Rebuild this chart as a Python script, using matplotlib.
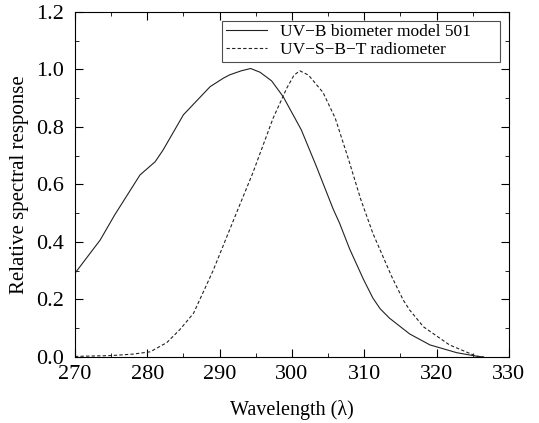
import matplotlib
matplotlib.use("Agg")
import matplotlib.pyplot as plt
from matplotlib.ticker import MultipleLocator, FormatStrFormatter

plt.rcParams['font.family'] = ['Liberation Serif', 'DejaVu Serif']

# UV-B biometer model 501
wl_bio = [270, 273.5, 275.5, 279, 281.1, 282.2, 285, 288.7, 290.5, 291.4, 293, 294.3,
          295.6, 297.2, 298.8, 301.3, 303.4, 305.7, 306.6, 308, 309.9, 311.2, 312.2,
          313.5, 316.3, 319.1, 322.8, 325.5, 326.5]
resp_bio = [0.291, 0.407, 0.494, 0.633, 0.679, 0.72, 0.842, 0.94, 0.969, 0.981, 0.995, 1.003,
            0.99, 0.96, 0.905, 0.79, 0.662, 0.515, 0.465, 0.375, 0.27, 0.205, 0.168,
            0.135, 0.08, 0.042, 0.015, 0.003, 0.0]

# UV-S-B-T radiometer
wl_rad = [270, 275, 278, 280.4, 282.7, 284.5, 286.4, 289.1, 292, 294.6, 297.4, 299.3,
          300.3, 301.1, 302.3, 304.3, 306, 307.8, 309.5, 311.2, 313.8, 315.4, 316.3,
          318.2, 321.8, 325.5, 326.5]
resp_rad = [0.002, 0.005, 0.01, 0.018, 0.05, 0.095, 0.152, 0.30, 0.48, 0.64, 0.83, 0.935,
            0.98, 0.995, 0.98, 0.92, 0.83, 0.69, 0.55, 0.43, 0.28, 0.198, 0.163,
            0.105, 0.042, 0.003, 0.0]

fig = plt.figure(figsize=(5.39, 4.23), dpi=100)
ax = fig.add_axes([0.139, 0.156, 0.805, 0.816])

pad_r = '\u2007' * 3
ax.plot(wl_bio, resp_bio, color='#222222', lw=0.8, ls='-',
        label='UV\u2212B biometer model 501' + pad_r)
ax.plot(wl_rad, resp_rad, color='#222222', lw=0.8, ls=(0, (3, 2)),
        label='UV\u2212S\u2212B\u2212T radiometer')

ax.set_xlim(270, 330)
ax.set_ylim(0, 1.2)
ax.xaxis.set_major_locator(MultipleLocator(10))
ax.xaxis.set_minor_locator(MultipleLocator(5))
ax.yaxis.set_major_locator(MultipleLocator(0.2))
ax.yaxis.set_minor_locator(MultipleLocator(0.1))
ax.yaxis.set_major_formatter(FormatStrFormatter('%.1f'))
ax.tick_params(which='both', direction='in', top=True, right=True, labelsize=16)
ax.tick_params(axis='x', pad=6)
ax.tick_params(axis='y', pad=8)
ax.tick_params(which='major', length=6)
ax.tick_params(which='minor', length=3)
for s in ax.spines.values():
    s.set_linewidth(0.8)

ax.set_xlabel('Wavelength (\u03bb)', fontsize=14.5, labelpad=11)
ax.set_ylabel('Relative spectral response', fontsize=15, labelpad=5)

leg = ax.legend(loc='upper right', fontsize=12.5, frameon=True, fancybox=False,
                edgecolor='#222222', borderaxespad=0.5, handlelength=2.4,
                borderpad=0.2, labelspacing=0.1, handletextpad=0.7)
leg.get_frame().set_linewidth(0.8)

fig.savefig('out.png', dpi=100)
